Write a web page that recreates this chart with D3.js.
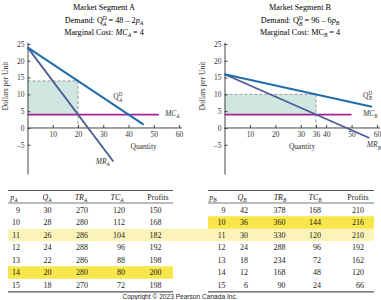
<!DOCTYPE html>
<html>
<head>
<meta charset="utf-8">
<script src="https://cdn.jsdelivr.net/npm/d3@7"></script>
<style>
  body { margin: 0; background: #fff; }
  svg { display: block; font-family: "Liberation Serif", "DejaVu Serif", serif; }
</style>
</head>
<body>
<script>
'use strict';

// ---- chart data ----
// curve end points as [quantity, dollars]
const demandA = [[0, 24], [46, 1]];
const mrA = [[0, 24], [34, -10]];
const mcA = [[0, 4], [52, 4]];
const demandB = [[0, 16], [58, 6.33]];
const mrB = [[0, 16], [57, -3]];
const mcB = [[0, 4], [50, 4]];

// profit-maximising point in each segment
const optA = { q: 20, p: 14, mc: 4 };
const optB = { q: 36, p: 10, mc: 4 };

const yTicks = [-5, 0, 5, 10, 15, 20, 25];
const xTicksA = [10, 20, 30, 40, 50, 60];
const xTicksB = [10, 20, 30, 36, 40, 50, 60];

// table data
const pA = [9, 10, 11, 12, 13, 14, 15];
const qA = [30, 28, 26, 24, 22, 20, 18];
const trA = [270, 280, 286, 288, 286, 280, 270];
const tcA = [120, 112, 104, 96, 88, 80, 72];
const profitA = [150, 168, 182, 192, 198, 200, 198];

const pB = [9, 10, 11, 12, 13, 14, 15];
const qB = [42, 36, 30, 24, 18, 12, 6];
const trB = [378, 360, 330, 288, 234, 168, 90];
const tcB = [168, 144, 120, 96, 72, 48, 24];
const profitB = [210, 216, 210, 192, 162, 120, 66];

const blue = "#1f6dab";
const slate = "#4b5b93";
const purple = "#a3239b";
const shade = "#cfe7e0";
const brightYellow = "#f8e64b";
const paleYellow = "#fcf3b8";

let svg = d3.select("body").append("svg")
  .attr("width", 381)
  .attr("height", 300);

// y scale shared by both panels
let yScale = d3.scaleLinear().domain([-13.7, 25.5]).range([174, 42.3]);

// write "X" with sub / superscripts into a text element,
// returns the dy needed to get back to the baseline
function addScript(textSel, base, sup, sub, size, italicBase) {
  let small = size * 0.68;
  textSel.append("tspan").text(base).style("font-style", italicBase ? "italic" : "normal");
  if (sup) {
    textSel.append("tspan").text(sup)
      .attr("dy", -size * 0.4).style("font-size", small + "px");
    textSel.append("tspan").text(sub)
      .attr("dx", -small * 0.68).attr("dy", size * 0.75)
      .style("font-size", small + "px").style("font-style", "italic");
    return -size * 0.35;
  }
  textSel.append("tspan").text(sub)
    .attr("dy", size * 0.3).style("font-size", small + "px").style("font-style", "italic");
  return -size * 0.3;
}

function drawPanel(cfg) {
  let xScale = d3.scaleLinear().domain([0, 60]).range(cfg.xRange);
  let g = svg.append("g");
  let line = d3.line().x(d => xScale(d[0])).y(d => yScale(d[1]));

  // titles
  g.append("text")
    .attr("x", cfg.titleX).attr("y", 10)
    .attr("text-anchor", "middle").style("font-size", "8.2px")
    .text("Market Segment " + cfg.seg);

  let t2 = g.append("text")
    .attr("x", cfg.titleX).attr("y", 23)
    .attr("text-anchor", "middle").style("font-size", "8.2px");
  t2.append("tspan").text("Demand: ");
  let back = addScript(t2, "Q", "D", cfg.seg, 8.2, false);
  t2.append("tspan").attr("dy", back).text(" = " + cfg.eq);
  t2.append("tspan").text("p").style("font-style", "italic");
  t2.append("tspan").text(cfg.seg).attr("dy", 2.4).style("font-size", "5.6px").style("font-style", "italic");

  let t3 = g.append("text")
    .attr("x", cfg.titleX).attr("y", 35)
    .attr("text-anchor", "middle").style("font-size", "8.2px");
  t3.append("tspan").text("Marginal Cost: ");
  back = addScript(t3, "MC", null, cfg.seg, 8.2, cfg.seg === "A");
  t3.append("tspan").attr("dy", back).text(" = 4");

  // shaded profit area and dashed guides
  g.append("rect")
    .attr("x", xScale(0)).attr("y", yScale(cfg.opt.p))
    .attr("width", xScale(cfg.opt.q) - xScale(0))
    .attr("height", yScale(cfg.opt.mc) - yScale(cfg.opt.p))
    .attr("fill", shade);

  g.append("line")
    .attr("x1", xScale(0)).attr("x2", xScale(cfg.opt.q))
    .attr("y1", yScale(cfg.opt.p)).attr("y2", yScale(cfg.opt.p))
    .attr("stroke", "#9a9a9a").attr("stroke-width", 1).attr("stroke-dasharray", "3,2");
  g.append("line")
    .attr("x1", xScale(cfg.opt.q)).attr("x2", xScale(cfg.opt.q))
    .attr("y1", yScale(cfg.opt.p)).attr("y2", yScale(0))
    .attr("stroke", "#9a9a9a").attr("stroke-width", 1).attr("stroke-dasharray", "3,2");

  // axes
  let xAxis = d3.axisBottom(xScale)
    .tickValues(cfg.xTicks)
    .tickSizeInner(-3).tickSizeOuter(0).tickPadding(4);
  let xg = g.append("g")
    .attr("transform", "translate(0," + yScale(0) + ")")
    .call(xAxis);
  xg.select(".domain").attr("d", "M" + xScale(0) + ",0H" + (xScale(60) + 3));

  let yAxis = d3.axisLeft(yScale)
    .tickValues(yTicks)
    .tickSizeInner(-3).tickSizeOuter(0).tickPadding(3)
    .tickFormat(d => d < 0 ? "\u2013" + Math.abs(d) : d);
  g.append("g")
    .attr("transform", "translate(" + xScale(0) + ",0)")
    .call(yAxis);

  g.selectAll(".tick text")
    .attr("font-family", "'Liberation Serif', serif")
    .attr("font-size", 7.5).attr("fill", "#333");
  g.selectAll(".domain, .tick line").attr("stroke", "#444").attr("stroke-width", 1);

  // axis labels
  g.append("text")
    .attr("x", xScale(cfg.qLabelAt)).attr("y", 149)
    .attr("text-anchor", "middle").style("font-size", "7.5px").attr("fill", "#333")
    .text("Quantity");
  g.append("text")
    .attr("transform", "translate(" + (xScale(0) - 20) + "," + yScale(12.5) + ") rotate(-90)")
    .attr("text-anchor", "middle").style("font-size", "7.5px").attr("fill", "#333")
    .text("Dollars per Unit");

  // curves
  g.append("path").datum(cfg.mc).attr("d", line)
    .attr("fill", "none").attr("stroke", purple).attr("stroke-width", 1.8);
  g.append("path").datum(cfg.mr).attr("d", line)
    .attr("fill", "none").attr("stroke", slate).attr("stroke-width", 1.8);
  g.append("path").datum(cfg.demand).attr("d", line)
    .attr("fill", "none").attr("stroke", blue).attr("stroke-width", 2);

  // curve labels
  let ld = g.append("text")
    .attr("x", xScale(cfg.dLabel[0])).attr("y", yScale(cfg.dLabel[1]))
    .style("font-size", "7.5px").attr("fill", "#333");
  addScript(ld, "Q", "D", cfg.seg, 7.5, false);

  let lmc = g.append("text")
    .attr("x", xScale(cfg.mcLabel[0])).attr("y", yScale(cfg.mcLabel[1]))
    .style("font-size", "7.5px").attr("fill", "#333");
  addScript(lmc, "MC", null, cfg.seg, 7.5, true);

  let lmr = g.append("text")
    .attr("x", xScale(cfg.mrLabel[0])).attr("y", yScale(cfg.mrLabel[1]))
    .style("font-size", "7.5px").attr("fill", "#333");
  addScript(lmr, "MR", null, cfg.seg, 7.5, true);
}

drawPanel({
  seg: "A", eq: "48 \u2013 2", titleX: 104, xRange: [27.5, 179],
  xTicks: xTicksA, opt: optA, demand: demandA, mr: mrA, mc: mcA,
  qLabelAt: 46, dLabel: [34, 8.5], mcLabel: [54.5, 3.6], mrLabel: [27, -10.6]
});

drawPanel({
  seg: "B", eq: "96 \u2013 6", titleX: 300, xRange: [224.5, 377],
  xTicks: xTicksB, opt: optB, demand: demandB, mr: mrB, mc: mcB,
  qLabelAt: 30.5, dLabel: [54.5, 9], mcLabel: [54.5, 3.6], mrLabel: [56, -5.8]
});

// ---- tables ----
let rowY = d3.scaleLinear().domain([0, 6]).range([210, 285]);
const rowH = 12.5;

// pale band on price 11 runs across both tables
svg.append("rect")
  .attr("x", 8).attr("width", 366)
  .attr("y", rowY(pA.indexOf(11)) - rowH / 2).attr("height", rowH)
  .attr("fill", paleYellow);
svg.append("rect")
  .attr("x", 8).attr("width", 165)
  .attr("y", rowY(profitA.indexOf(d3.max(profitA))) - rowH / 2).attr("height", rowH)
  .attr("fill", brightYellow);
svg.append("rect")
  .attr("x", 208).attr("width", 166)
  .attr("y", rowY(profitB.indexOf(d3.max(profitB))) - rowH / 2).attr("height", rowH)
  .attr("fill", brightYellow);

function drawTable(cfg) {
  let g = svg.append("g");

  g.append("line").attr("x1", cfg.x0).attr("x2", cfg.x1).attr("y1", 190.5).attr("y2", 190.5)
    .attr("stroke", "#555").attr("stroke-width", 1);
  g.append("line").attr("x1", cfg.x0).attr("x2", cfg.x1).attr("y1", 203).attr("y2", 203)
    .attr("stroke", "#555").attr("stroke-width", 0.8);
  g.append("line").attr("x1", cfg.x0).attr("x2", cfg.x1).attr("y1", 291.8).attr("y2", 291.8)
    .attr("stroke", "#555").attr("stroke-width", 1.3);

  // header
  cfg.headers.forEach((h, i) => {
    let t = g.append("text")
      .attr("x", cfg.headX[i]).attr("y", 200)
      .attr("text-anchor", "middle").style("font-size", "8px").attr("fill", "#222");
    if (h === "Profits") {
      t.text(h);
    } else {
      addScript(t, h, null, cfg.seg, 8, true);
    }
  });

  // body
  cfg.cols.forEach((col, c) => {
    g.selectAll(null)
      .data(col)
      .enter()
      .append("text")
      .attr("x", cfg.colX[c])
      .attr("y", (d, i) => rowY(i) + 2.8)
      .attr("text-anchor", "end")
      .style("font-size", "8px").attr("fill", "#222")
      .text(d => d);
  });
}

drawTable({
  seg: "A", x0: 8, x1: 173,
  headers: ["p", "Q", "TR", "TC", "Profits"],
  headX: [14, 47, 81, 117, 158],
  colX: [20, 51.5, 88, 125, 161.5],
  cols: [pA, qA, trA, tcA, profitA]
});

drawTable({
  seg: "B", x0: 208, x1: 374,
  headers: ["p", "Q", "TR", "TC", "Profits"],
  headX: [213, 242, 280, 315, 358],
  colX: [225.5, 248, 285.5, 321, 364],
  cols: [pB, qB, trB, tcB, profitB]
});

svg.append("text")
  .attr("x", 180).attr("y", 298.5)
  .attr("text-anchor", "middle")
  .style("font-family", "'Liberation Sans', Arial, sans-serif")
  .style("font-size", "6.6px").attr("fill", "#222")
  .text("Copyright \u00a9 2023 Pearson Canada Inc.");
</script>
</body>
</html>
